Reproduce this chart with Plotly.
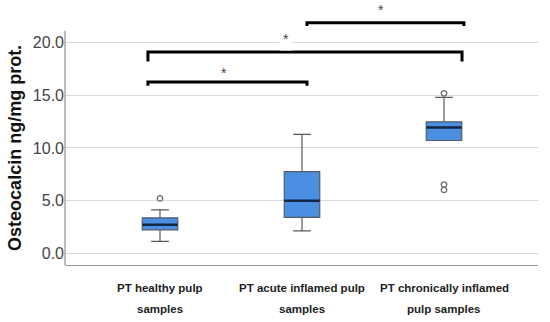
import plotly.graph_objects as go

# ---- data ----
categories = ["PT healthy pulp samples", "PT acute inflamed pulp samples", "PT chronically inflamed pulp samples"]
label_line1 = ["PT healthy pulp", "PT acute inflamed pulp", "PT chronically inflamed"]
label_line2 = ["samples", "samples", "pulp samples"]
y_title = "Osteocalcin ng/mg prot."
q1 = [2.23, 3.41, 10.70]
median = [2.71, 4.99, 11.94]
q3 = [3.37, 7.75, 12.47]
lower_whisker = [1.13, 2.13, 10.70]
upper_whisker = [4.12, 11.28, 14.78]
outlier_cat = [0, 2, 2, 2]
outlier_val = [5.21, 15.17, 6.52, 6.02]
y_ticks = [0, 5, 10, 15, 20]
y_ticktext = ["0.0", "5.0", "10.0", "15.0", "20.0"]
# significance brackets: (left x, right x, bar height, tick bottom, star x, star y)
br_left = [-0.085, -0.085, 1.035]
br_right = [1.035, 2.127, 2.14]
br_height = [16.24, 19.08, 21.87]
br_tick = [15.9, 18.2, 21.55]
star_x = [0.45, 0.887, 1.556]
star_y = [17.1, 20.3, 23.1]
star_bg = [False, True, False]

pos = list(range(len(categories)))
box_w = 0.25
y_axis_bottom, y_axis_top = -1.1, 21.1

fig = go.Figure()
fig.add_trace(go.Box(
    x=pos, q1=q1, median=median, q3=q3,
    lowerfence=lower_whisker, upperfence=upper_whisker,
    width=box_w, whiskerwidth=0.5,
    fillcolor="#4a8fe2", line=dict(color="#555b63", width=1.2),
    boxpoints=False, showlegend=False, hoverinfo="skip",
))
# darker median lines
for i, m in enumerate(median):
    fig.add_trace(go.Scatter(
        x=[pos[i] - box_w / 2, pos[i] + box_w / 2], y=[m, m], mode="lines",
        line=dict(color="#142747", width=2.5), showlegend=False, hoverinfo="skip"))
# outliers
fig.add_trace(go.Scatter(
    x=outlier_cat, y=outlier_val, mode="markers",
    marker=dict(symbol="circle-open", size=5.5, color="#6b6b6b", line=dict(width=1.3)),
    showlegend=False, hoverinfo="skip"))
# brackets
for l, r, h, t in zip(br_left, br_right, br_height, br_tick):
    fig.add_trace(go.Scatter(
        x=[l, l, r, r], y=[t, h, h, t], mode="lines",
        line=dict(color="black", width=3), showlegend=False, hoverinfo="skip"))

annotations = []
for sx, sy, bg in zip(star_x, star_y, star_bg):
    annotations.append(dict(x=sx, y=sy, xref="x", yref="y", text="*", showarrow=False,
                            font=dict(family="Liberation Sans", size=14, color="#444"),
                            bgcolor="white" if bg else "rgba(0,0,0,0)", borderpad=3 if bg else 0))
for i in pos:
    annotations.append(dict(x=pos[i], y=0, xref="x", yref="paper",
                            yshift=-23, text="<b>" + label_line1[i] + "</b>", showarrow=False,
                            font=dict(family="Liberation Sans", size=11.5, color="#222"),
                            yanchor="middle"))
    annotations.append(dict(x=pos[i], y=0, xref="x", yref="paper",
                            yshift=-44, text="<b>" + label_line2[i] + "</b>", showarrow=False,
                            font=dict(family="Liberation Sans", size=11.5, color="#222"),
                            yanchor="middle"))
annotations.append(dict(x=0, y=(y_axis_bottom + y_axis_top) / 2, xref="paper", yref="y",
                        xshift=-50, text="<b>" + y_title + "</b>", textangle=-90,
                        showarrow=False, xanchor="center", yanchor="middle",
                        font=dict(family="Liberation Sans", size=18, color="#111")))

shapes = [dict(type="line", xref="paper", yref="y", x0=0, x1=0, y0=y_axis_bottom, y1=y_axis_top,
               line=dict(color="#9a9a9a", width=1.3))]

fig.update_layout(
    width=550, height=322,
    margin=dict(l=65, r=12, t=2, b=57),
    paper_bgcolor="white", plot_bgcolor="white",
    annotations=annotations, shapes=shapes,
    xaxis=dict(range=[-0.669, 2.662], showticklabels=False, showgrid=False, zeroline=False,
               showline=True, linecolor="#9a9a9a", linewidth=1.3, ticks=""),
    yaxis=dict(range=[y_axis_bottom, 23.83], tickvals=y_ticks, ticktext=y_ticktext,
               showgrid=True, gridcolor="#d9d9d9", gridwidth=1.2, zeroline=False,
               showline=False, ticks="",
               tickfont=dict(family="Liberation Sans", size=16, color="#444")),
)

fig.write_html("out.html", config={"displayModeBar": False},
               post_script="document.body.style.margin='0';")
